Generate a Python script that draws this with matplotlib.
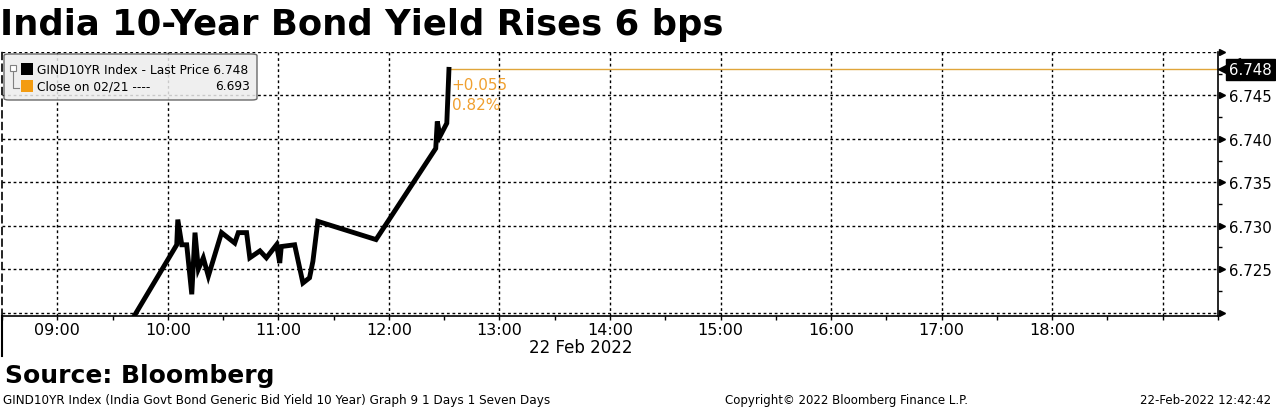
import datetime as dt
import matplotlib
matplotlib.use('Agg')
import matplotlib.pyplot as plt
import matplotlib.transforms as mtrans
from matplotlib.dates import HourLocator, MinuteLocator, date2num, num2date
from matplotlib.patches import FancyBboxPatch, Rectangle
from matplotlib.ticker import FixedLocator, FuncFormatter

# intraday GIND10YR ticks
times = ["09:35:00", "10:04:50", "10:05:25", "10:07:35", "10:10:15", "10:13:00",
         "10:14:45", "10:16:35", "10:19:15", "10:22:00", "10:29:10", "10:36:20",
         "10:38:15", "10:42:45", "10:44:30", "10:50:00", "10:53:30", "10:59:00",
         "11:00:45", "11:01:35", "11:08:50", "11:13:20", "11:16:55", "11:18:45",
         "11:21:25", "11:53:00", "12:25:25", "12:26:15", "12:27:45", "12:31:25",
         "12:32:35"]
yields = [6.7172, 6.7278, 6.7307, 6.7278, 6.7278, 6.7221,
          6.7292, 6.7250, 6.7263, 6.7242, 6.7292, 6.7280,
          6.7292, 6.7292, 6.7263, 6.7271, 6.7263, 6.7278,
          6.7257, 6.7276, 6.7278, 6.7234, 6.7240, 6.7259,
          6.7305, 6.7284, 6.7389, 6.7420, 6.7403, 6.7418,
          6.7480]
last_price = 6.748
prev_close = 6.693
change = "+0.055"
change_pct = "0.82%"
ytick_vals = [6.720, 6.725, 6.730, 6.735, 6.740, 6.745, 6.750]

day = dt.date(2022, 2, 22)
x = [dt.datetime.combine(day, dt.time.fromisoformat(t)) for t in times]
t_start = dt.datetime.combine(day, dt.time(8, 30))
t_end = dt.datetime.combine(day, dt.time(19, 30))
last_label = date2num(dt.datetime.combine(day, dt.time(18, 30)))

W, H = 1276, 410
fig = plt.figure(figsize=(W / 100, H / 100), dpi=100)
ax = fig.add_axes([2 / W, 1 - 317 / H, 1216 / W, 264 / H])

ax.plot(x, yields, color='black', lw=3.5, solid_joinstyle='miter', zorder=3)
ax.plot([x[-1], t_end], [last_price, last_price], color='#E0A53A', lw=1, zorder=2)

ax.set_xlim(t_start, t_end)
ax.set_ylim(6.7196, 6.750)

# x axis
ax.xaxis.set_major_locator(HourLocator())
ax.xaxis.set_minor_locator(MinuteLocator(byminute=[30]))
ax.xaxis.set_major_formatter(FuncFormatter(
    lambda v, p: '' if v > last_label else num2date(v).strftime('%H:%M')))
ax.tick_params(axis='x', which='both', direction='out', length=3, width=1,
               labelsize=11.5, pad=1)

# y axis on right
ax.yaxis.tick_right()
ax.yaxis.set_major_locator(FixedLocator(ytick_vals))
ax.yaxis.set_minor_locator(FixedLocator([v + 0.0025 for v in ytick_vals[:-1]]))
ax.yaxis.set_major_formatter(FuncFormatter(
    lambda v, p: '' if v in (ytick_vals[0], ytick_vals[-1]) else f'{v:.3f}'))
ax.tick_params(axis='y', which='major', length=0, labelsize=10.8, pad=8)
ax.tick_params(axis='y', which='minor', direction='out', length=3, width=1)
tr = mtrans.blended_transform_factory(ax.transAxes, ax.transData)
ax.plot([1.003] * len(ytick_vals), ytick_vals, '>', color='black', ms=5,
        transform=tr, clip_on=False, zorder=5)

ax.grid(True, which='major', color='black', linestyle=(0, (2, 2)), lw=1)
ax.spines['top'].set_visible(False)
ax.spines['left'].set_linestyle((0, (4, 3)))
for s in ax.spines.values():
    s.set_linewidth(1.2)
ax.plot([0, 0], [0, -0.15], color='black', lw=1.5, transform=ax.transAxes, clip_on=False)

# last-price tag on the right axis
ax.plot([1.009], [last_price], '<', color='black', ms=15.8, transform=tr,
        clip_on=False, zorder=6)
ax.text(1.009, last_price, f'{last_price:.3f}', transform=tr, color='white',
        fontsize=10.8, va='center', ha='left', zorder=7,
        bbox=dict(boxstyle='square,pad=0.2', fc='black', ec='black'))

# change annotation
ax.annotate(change, (x[-1], last_price), xytext=(2, -11), textcoords='offset points',
            color='#F0A030', fontsize=11, va='center')
ax.annotate(change_pct, (x[-1], last_price), xytext=(2, -25), textcoords='offset points',
            color='#F0A030', fontsize=11, va='center')

# legend box
def px(xp, yp):
    return xp / W, 1 - yp / H

box = FancyBboxPatch(px(4, 101), 253 / W, 46 / H, transform=fig.transFigure,
                     boxstyle='round,pad=0,rounding_size=0.004', fc='#EDEDED',
                     ec='#505050', lw=1, alpha=0.85, zorder=10)
fig.patches.append(box)
fig.patches.append(Rectangle(px(21, 76), 12 / W, 12 / H, transform=fig.transFigure,
                             fc='black', ec='none', zorder=11))
fig.patches.append(Rectangle(px(21, 93), 12 / W, 12 / H, transform=fig.transFigure,
                             fc='#F39C12', ec='none', zorder=11))
fig.patches.append(Rectangle(px(10, 72), 6 / W, 6 / H, transform=fig.transFigure,
                             fc='white', ec='#808080', lw=0.8, zorder=11))
fig.lines.append(plt.Line2D([13 / W, 13 / W, 19 / W], [1 - 73 / H, 1 - 89 / H, 1 - 89 / H],
                            transform=fig.transFigure, color='#808080', lw=0.8, zorder=11))
fig.text(*px(37, 70), f'GIND10YR Index - Last Price {last_price:.3f}', fontsize=8.8,
         va='center', zorder=12)
fig.text(*px(37, 87), 'Close on 02/21 ----', fontsize=8.8, va='center', zorder=12)
fig.text(*px(250, 87), f'{prev_close:.3f}', fontsize=8.8, va='center', ha='right', zorder=12)

# texts
fig.text(*px(0, 25), 'India 10-Year Bond Yield Rises 6 bps', fontsize=25.5,
         fontweight='bold', va='center', ha='left')
fig.text(*px(581, 348), '22 Feb 2022', fontsize=12, va='center', ha='center')
fig.text(*px(5, 376), 'Source: Bloomberg', fontsize=18, fontweight='bold', va='center')
fig.text(*px(3, 401), 'GIND10YR Index (India Govt Bond Generic Bid Yield 10 Year) Graph 9 1 Days 1 Seven Days',
         fontsize=8.65, va='center')
fig.text(*px(725, 401), 'Copyright\u00a9 2022 Bloomberg Finance L.P.', fontsize=8.5, va='center')
fig.text(*px(1271, 401), '22-Feb-2022 12:42:42', fontsize=8.5, va='center', ha='right')

fig.savefig('out.png', dpi=100)
